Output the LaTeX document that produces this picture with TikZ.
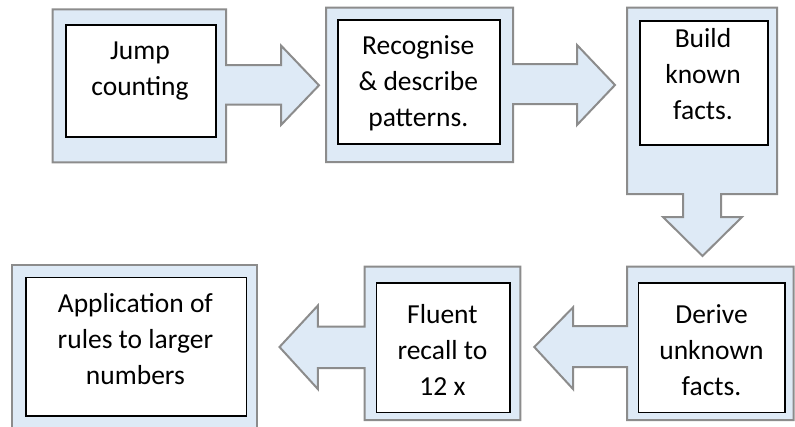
\documentclass[tikz,border=0pt]{standalone}
\usepackage{fontspec}
\setmainfont{Carlito}
\definecolor{fillblue}{HTML}{DEEAF6}
\definecolor{edgegray}{HTML}{8C8C8C}
\tikzset{
  callout/.style={draw=edgegray, fill=fillblue, line width=2pt, line join=miter},
  innerbox/.style={draw=black, fill=white, line width=1.6pt, inner sep=0pt, anchor=north west},
  steptext/.style={align=center, font=\fontsize{27.5}{36}\selectfont, inner sep=0pt}
}
\begin{document}
\begin{tikzpicture}[x=1pt,y=-1pt]
\useasboundingbox (0,0) rectangle (795,426);
\fill[white] (0,0) rectangle (795,426);
% shape 1 : right arrow callout
\draw[callout] (52.7,9.3) -- (226,9.3) -- (226,65) -- (281,65) -- (281,45.5) -- (319,85.3)
  -- (281,125) -- (281,104.5) -- (226,104.5) -- (226,162.3) -- (52.7,162.3) -- cycle;
% shape 2 : right arrow callout
\draw[callout] (326,7.5) -- (513,7.5) -- (513,64) -- (577,64) -- (577,45) -- (615,85)
  -- (577,125) -- (577,104) -- (513,104) -- (513,162) -- (326,162) -- cycle;
% shape 3 : down arrow callout
\draw[callout] (627,7.5) -- (777,7.5) -- (777,194) -- (721,194) -- (721,217) -- (742,217)
  -- (702.5,256) -- (663,217) -- (683,217) -- (683,194) -- (627,194) -- cycle;
% shape 6 : left arrow callout
\draw[callout] (793.5,266.7) -- (627,266.7) -- (627,326) -- (573,326) -- (573,307.4)
  -- (534.3,347) -- (573,389) -- (573,367) -- (627,367) -- (627,420) -- (793.5,420) -- cycle;
% shape 5 : left arrow callout
\draw[callout] (520.4,266.7) -- (364.7,266.7) -- (364.7,326.5) -- (317.8,326.5) -- (317.8,305.6)
  -- (279.5,347) -- (317.8,389) -- (317.8,368) -- (364.7,368) -- (364.7,420) -- (520.4,420) -- cycle;
% shape 4 : plain box
\draw[callout] (11.5,265) rectangle (256.5,432);
% inner boxes
\node[innerbox, minimum width=150pt, minimum height=112pt] (in1) at (65,24) {};
\node[innerbox, minimum width=162pt, minimum height=124pt] (in2) at (337.3,19) {};
\node[innerbox, minimum width=128pt, minimum height=124pt] (in3) at (639,20) {};
\node[innerbox, minimum width=220.7pt, minimum height=138.5pt] (in4) at (25,276.7) {};
\node[innerbox, minimum width=133.2pt, minimum height=129.6pt] (in5) at (375.8,282) {};
\node[innerbox, minimum width=146.4pt, minimum height=129.6pt] (in6) at (637.6,282) {};
% texts
\node[steptext] (t1) at (140,70) {\strut Jump\\\strut counting};
\node[steptext] (t2) at (418.3,83) {\strut Recognise\\\strut \& describe\\\strut patterns.};
\node[steptext] (t3) at (703,76.5) {\strut Build\\\strut known\\\strut facts.};
\node[steptext] (t4) at (135.4,341.5) {\strut Application of\\\strut rules to larger\\\strut numbers};
\node[steptext] (t5) at (442.4,352.5) {\strut Fluent\\\strut recall to\\\strut 12 x};
\node[steptext] (t6) at (711.5,352.5) {\strut Derive\\\strut unknown\\\strut facts.};
\end{tikzpicture}
\end{document}
